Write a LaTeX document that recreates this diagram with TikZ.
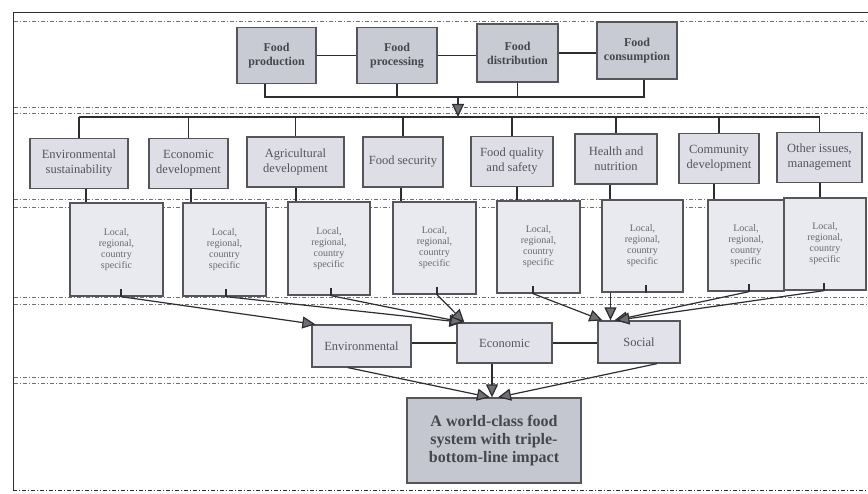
\documentclass[tikz,border=0pt]{standalone}
\usepackage{fontspec}
\setmainfont{Liberation Serif}
\usetikzlibrary{arrows.meta,calc}
\definecolor{topfill}{RGB}{200,202,212}
\definecolor{topicfill}{RGB}{222,223,230}
\definecolor{localfill}{RGB}{233,234,239}
\definecolor{tblfill}{RGB}{226,227,234}
\definecolor{finalfill}{RGB}{196,198,208}
\definecolor{boxline}{RGB}{85,85,90}
\definecolor{connc}{RGB}{45,45,50}
\definecolor{arrfill}{RGB}{110,110,115}
\definecolor{bandc}{RGB}{110,110,115}
\definecolor{txtdark}{RGB}{70,70,75}
\definecolor{txtmid}{RGB}{85,85,90}
\definecolor{txtlight}{RGB}{105,105,110}
\begin{document}
\begin{tikzpicture}[x=1pt,y=-1pt,
  box/.style={draw=boxline,line width=1.3pt,align=center,inner sep=0pt},
  topbox/.style={box,fill=topfill,font=\fontsize{12}{14}\selectfont\bfseries,text=txtdark,minimum width=80pt,minimum height=56pt},
  topicbox/.style={box,fill=topicfill,font=\fontsize{12.5}{15}\selectfont,text=txtmid,minimum height=50pt},
  localbox/.style={box,fill=localfill,font=\fontsize{10}{11}\selectfont,text=txtlight,minimum height=93pt},
  tblbox/.style={box,fill=tblfill,font=\fontsize{12.5}{15}\selectfont,text=txtmid,minimum height=42pt},
  finalbox/.style={box,fill=finalfill,font=\fontsize{16}{18}\selectfont\bfseries,text=txtdark,minimum width=174pt,minimum height=85pt},
  conn/.style={draw=connc,line width=1.2pt},
  arr/.style={conn,-{Triangle[length=13pt,width=12pt,fill=arrfill]}},
  band/.style={draw=bandc,line width=0.7pt,dash pattern=on 4pt off 2pt on 1pt off 2pt},
  frame/.style={draw=connc,line width=1pt}]
\useasboundingbox (0,0) rectangle (868,494);
\fill[white] (0,0) rectangle (868,494);
% bands
\foreach \yy in {21,107,113,199,207,297,304,377,383}
  \draw[band] (14,\yy) -- (868,\yy);
\draw[frame] (868,13) -- (13,13) -- (13,490);
\draw[band,draw=connc,line width=1pt] (13,490) -- (868,490);
% top row
\node[topbox,minimum width=79pt] (prod) at (276.5,55.5) {Food\\production};
\node[topbox] (proc) at (397,55.5) {Food\\processing};
\node[topbox,minimum width=81pt,minimum height=58pt] (dist) at (517.5,53) {Food\\distribution};
\node[topbox,minimum height=57pt] (cons) at (637,50.5) {Food\\consumption};
\draw[conn] (prod.east) -- (proc.west);
\draw[conn] (proc.east) -- (proc.east -| dist.west);
\draw[conn] (dist.east) -- (dist.east -| cons.west);
\coordinate (busA) at (458,97);
\coordinate (busB) at (458,117);
\draw[conn] ([xshift=-11.5pt]prod.south) |- ([xshift=7pt]cons.south |- busA) -- ([xshift=7pt]cons.south);
\draw[conn] (proc.south) -- (proc.south |- busA);
\draw[conn] (dist.south) -- (dist.south |- busA);
\draw[arr] (busA) -- (busB);
% topics
\node[topicbox,minimum width=98pt] (t1) at (79,163.5) {Environmental\\sustainability};
\node[topicbox,minimum width=79pt] (t2) at (188.5,163.5) {Economic\\development};
\node[topicbox,minimum width=97pt] (t3) at (295.5,162) {Agricultural\\development};
\node[topicbox,minimum width=80pt] (t4) at (403,162) {Food security};
\node[topicbox,minimum width=82pt] (t5) at (512,161.5) {Food quality\\and safety};
\node[topicbox,minimum width=82pt] (t6) at (616,159) {Health and\\nutrition};
\node[topicbox,minimum width=80pt] (t7) at (719,158.5) {Community\\development};
\node[topicbox,minimum width=85pt] (t8) at (819.5,157.5) {Other issues,\\management};
\draw[conn] (t1.north |- busB) -- (t8.north |- busB);
\foreach \i in {1,...,8}
  \draw[conn] (t\i.north) -- (t\i.north |- busB);
% locals
\node[localbox,minimum width=93pt] (l1) at (116.5,249.5) {Local,\\regional,\\country\\specific};
\node[localbox,minimum width=83pt] (l2) at (224.5,249.5) {Local,\\regional,\\country\\specific};
\node[localbox,minimum width=82pt] (l3) at (329,248.5) {Local,\\regional,\\country\\specific};
\node[localbox,minimum width=83pt,minimum height=92pt] (l4) at (434.5,248) {Local,\\regional,\\country\\specific};
\node[localbox,minimum width=83pt,minimum height=92pt] (l5) at (538.5,247) {Local,\\regional,\\country\\specific};
\node[localbox,minimum width=81pt,minimum height=92pt] (l6) at (642.5,246) {Local,\\regional,\\country\\specific};
\node[localbox,minimum width=76pt,minimum height=91pt] (l7) at (746,245.5) {Local,\\regional,\\country\\specific};
\node[localbox,minimum width=82pt,minimum height=92pt] (l8) at (825,244) {Local,\\regional,\\country\\specific};
\foreach \i/\s in {1/7,2/2.5,3/0.5,4/-2,5/5,6/-6,7/-5,8/0.5}
  \draw[conn] ([xshift=\s pt]t\i.south) -- ([xshift=\s pt]t\i.south |- l\i.north);
\foreach \i/\s in {1/4.5,2/1.5,3/2,4/2.5,5/-5.5,6/3.5,7/3,8/-1}{
  \coordinate (o\i) at ([xshift=\s pt]l\i.south);
  \draw[conn] (o\i) -- ++(0,-8);
}
% triple bottom line
\node[tblbox,minimum width=99pt] (env) at (361.5,346) {Environmental};
\node[tblbox,minimum width=95pt,minimum height=40pt] (econ) at (504.5,343) {Economic};
\node[tblbox,minimum width=82pt] (soc) at (639,342) {Social};
\draw[conn] (env.east |- econ.west) -- (econ.west);
\draw[conn] (econ.east) -- (econ.east -| soc.west);
\draw[arr] (o1) -- ([xshift=4pt]env.north west);
\draw[arr] (o2) -- ([xshift=6pt]econ.north west);
\draw[arr] (o3) -- ([xshift=7pt]econ.north west);
\draw[arr] (o4) -- ([xshift=8pt]econ.north west);
\draw[arr] (o5) -- ([xshift=5pt]soc.north west);
\draw[arr] ([xshift=-32pt]l6.south) -- ([xshift=-32pt]l6.south |- soc.north);
\draw[arr] (o7) -- ([xshift=17pt]soc.north west);
\draw[arr] (o8) -- ([xshift=19pt]soc.north west);
% final
\node[finalbox] (fin) at (494,440.5) {A world-class food\\system with triple-\\bottom-line impact};
\draw[arr] ([xshift=-13.5pt]env.south) -- ([xshift=-4pt]fin.north);
\draw[arr] ([xshift=-12.5pt]econ.south) -- ([xshift=-12.5pt]econ.south |- fin.north);
\draw[arr] ([xshift=18pt]soc.south) -- ([xshift=4pt]fin.north);
\end{tikzpicture}
\end{document}
